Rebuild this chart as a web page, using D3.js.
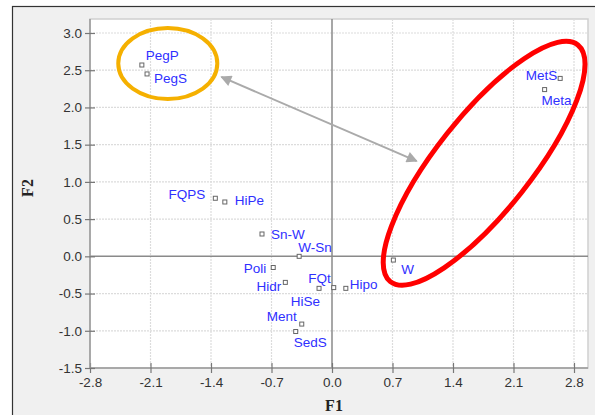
<!DOCTYPE html>
<html><head><meta charset="utf-8">
<script src="https://cdn.jsdelivr.net/npm/d3@7"></script>
<style>body{margin:0;background:#fff;}svg{display:block;}</style>
</head><body>
<svg id="c" width="595" height="415"></svg>
<script>
const names = ["PegP","PegS","FQPS","HiPe","Sn-W","W-Sn","Poli","Hidr","FQt","HiSe","Hipo","Ment","SedS","W","MetS","Meta"];
const f1 = [-2.20,-2.14,-1.35,-1.24,-0.81,-0.38,-0.68,-0.54,0.02,-0.15,0.16,-0.35,-0.42,0.71,2.64,2.46];
const f2 = [2.57,2.45,0.78,0.73,0.30,0.00,-0.15,-0.35,-0.42,-0.43,-0.43,-0.91,-1.01,-0.05,2.39,2.24];
const xTicks = [-2.8,-2.1,-1.4,-0.7,0.0,0.7,1.4,2.1,2.8];
const yTicks = [-1.5,-1.0,-0.5,0.0,0.5,1.0,1.5,2.0,2.5,3.0];
const xTickLabels = ["-2.8","-2.1","-1.4","-0.7","0.0","0.7","1.4","2.1","2.8"];
const yTickLabels = ["-1.5","-1.0","-0.5","0.0","0.5","1.0","1.5","2.0","2.5","3.0"];
// annotations in data units
const orangeGroup = {cx:-1.90, cy:2.59, rx:0.573, ry:0.477};
const redGroup = {cx:1.76, cy:1.25};
const arrowFrom = [-1.28, 2.41], arrowTo = [0.98, 1.28];

// label placement (style): anchor, dx, dy
const place = {
 "PegP":["start",4,-5],"PegS":["start",7,9],"FQPS":["end",-10,1],"HiPe":["start",10,3],
 "Sn-W":["start",9,5],"W-Sn":["start",-1,-4],"Poli":["end",-7,5],"Hidr":["end",-4,9],
 "FQt":["end",-3,-5],"HiSe":["end",1,18],"Hipo":["start",4,1],"Ment":["end",-5,-3],
 "SedS":["start",-2,15],"W":["start",8,14],"MetS":["end",-3,2],"Meta":["start",-3,15]
};

const svg = d3.select("#c");
const x = d3.scaleLinear().domain([-2.8,2.8]).range([90,574]);
const y = d3.scaleLinear().domain([-1.5,3.0]).range([368,33]);
const plotL = 90, plotR = 588, plotT = 19, plotB = 368;

// outer frame
svg.append("rect").attr("x",12.5).attr("y",6.5).attr("width",590).attr("height",420)
  .attr("fill","#f0f0f0").attr("stroke","#333").attr("stroke-width",1.2);
// plot area
svg.append("rect").attr("x",plotL).attr("y",plotT).attr("width",plotR-plotL).attr("height",plotB-plotT)
  .attr("fill","#fff").attr("stroke","#cfcfcf").attr("stroke-width",1.5);

// grid
const grid = svg.append("g");
grid.selectAll(".gx").data(xTicks.filter(d=>d!==0 && d!==-2.8)).join("line")
  .attr("x1",d=>x(d)).attr("x2",d=>x(d)).attr("y1",plotT).attr("y2",plotB)
  .attr("stroke","#dcdcdc").attr("stroke-width",1.2).attr("stroke-dasharray","2,1");
grid.selectAll(".gy").data(yTicks.filter(d=>d!==0 && d!==-1.5)).join("line")
  .attr("y1",d=>y(d)).attr("y2",d=>y(d)).attr("x1",plotL).attr("x2",plotR)
  .attr("stroke","#dcdcdc").attr("stroke-width",1.2).attr("stroke-dasharray","2,1");
// zero lines
svg.append("line").attr("x1",x(0)).attr("x2",x(0)).attr("y1",plotT).attr("y2",plotB).attr("stroke","#8a8a8a").attr("stroke-width",1.5);
svg.append("line").attr("y1",y(0)).attr("y2",y(0)).attr("x1",plotL).attr("x2",plotR).attr("stroke","#8a8a8a").attr("stroke-width",1.5);

// axes
const xAxis = d3.axisBottom(x).tickValues(xTicks).tickFormat((d,i)=>xTickLabels[i]).tickSizeInner(5).tickSizeOuter(0).tickPadding(4);
const gx = svg.append("g").attr("transform",`translate(0,${plotB})`).call(xAxis);
gx.select(".domain").attr("d",`M${plotL},0H${plotR}`).attr("stroke","#999").attr("stroke-width",1.5);
gx.selectAll(".tick line").attr("y1",-5).attr("y2",5).attr("stroke","#777").attr("stroke-width",1.2);
gx.selectAll(".tick text").attr("font-family","Liberation Sans, Arial, sans-serif").attr("font-size",13.5).attr("fill","#333");

const yAxis = d3.axisLeft(y).tickValues(yTicks).tickFormat((d,i)=>yTickLabels[i]).tickSizeInner(5).tickSizeOuter(0).tickPadding(3);
const gy = svg.append("g").attr("transform",`translate(${plotL},0)`).call(yAxis);
gy.select(".domain").attr("d",`M0,${plotT}V${plotB}`).attr("stroke","#999").attr("stroke-width",1.5);
gy.selectAll(".tick line").attr("x1",-5).attr("x2",5).attr("stroke","#777").attr("stroke-width",1.2);
gy.selectAll(".tick text").attr("font-family","Liberation Sans, Arial, sans-serif").attr("font-size",13.5).attr("fill","#333");

// axis titles
svg.append("text").attr("x",334).attr("y",411).attr("text-anchor","middle")
  .attr("font-family","Liberation Serif, Times New Roman, serif").attr("font-weight","bold").attr("font-size",16).attr("fill","#222").text("F1");
svg.append("text").attr("transform","translate(33,188) rotate(-90)").attr("text-anchor","middle")
  .attr("font-family","Liberation Serif, Times New Roman, serif").attr("font-weight","bold").attr("font-size",16).attr("fill","#222").text("F2");

// points
const pts = names.map((n,i)=>({n, x:f1[i], y:f2[i]}));
svg.append("g").selectAll("rect").data(pts).join("rect")
  .attr("x",d=>x(d.x)-2).attr("y",d=>y(d.y)-2).attr("width",4).attr("height",4)
  .attr("fill","#fff").attr("stroke","#666").attr("stroke-width",1);
svg.append("g").selectAll("text").data(pts).join("text")
  .attr("x",d=>x(d.x)+place[d.n][1]).attr("y",d=>y(d.y)+place[d.n][2])
  .attr("text-anchor",d=>place[d.n][0])
  .attr("font-family","Liberation Sans, Arial, sans-serif").attr("font-size",13.5).attr("fill","#2f2fff")
  .text(d=>d.n);

// orange ellipse
svg.append("ellipse").attr("cx",x(orangeGroup.cx)).attr("cy",y(orangeGroup.cy))
  .attr("rx",x(orangeGroup.cx+orangeGroup.rx)-x(orangeGroup.cx))
  .attr("ry",y(orangeGroup.cy)-y(orangeGroup.cy+orangeGroup.ry))
  .attr("fill","none").attr("stroke","#f5b000").attr("stroke-width",4);
// red ellipse (rotated)
svg.append("ellipse").attr("transform",`translate(${x(redGroup.cx)},${y(redGroup.cy)}) rotate(-51.6)`)
  .attr("rx",151).attr("ry",47.5).attr("fill","none").attr("stroke","#ff0000").attr("stroke-width",5);

// arrow
const defs = svg.append("defs");
["s","e"].forEach(id=>{
 defs.append("marker").attr("id","ah"+id).attr("viewBox","0 0 10 10").attr("refX",9).attr("refY",5)
  .attr("markerWidth",7).attr("markerHeight",5.5).attr("markerUnits","strokeWidth")
  .attr("orient", id==="s" ? "auto-start-reverse" : "auto")
  .append("path").attr("d","M0,0L10,5L0,10Z").attr("fill","#aaaaaa");
});
svg.append("line").attr("x1",x(arrowFrom[0])).attr("y1",y(arrowFrom[1])).attr("x2",x(arrowTo[0])).attr("y2",y(arrowTo[1]))
  .attr("stroke","#aaaaaa").attr("stroke-width",2)
  .attr("marker-start","url(#ahs)").attr("marker-end","url(#ahe)");
</script>
</body></html>
